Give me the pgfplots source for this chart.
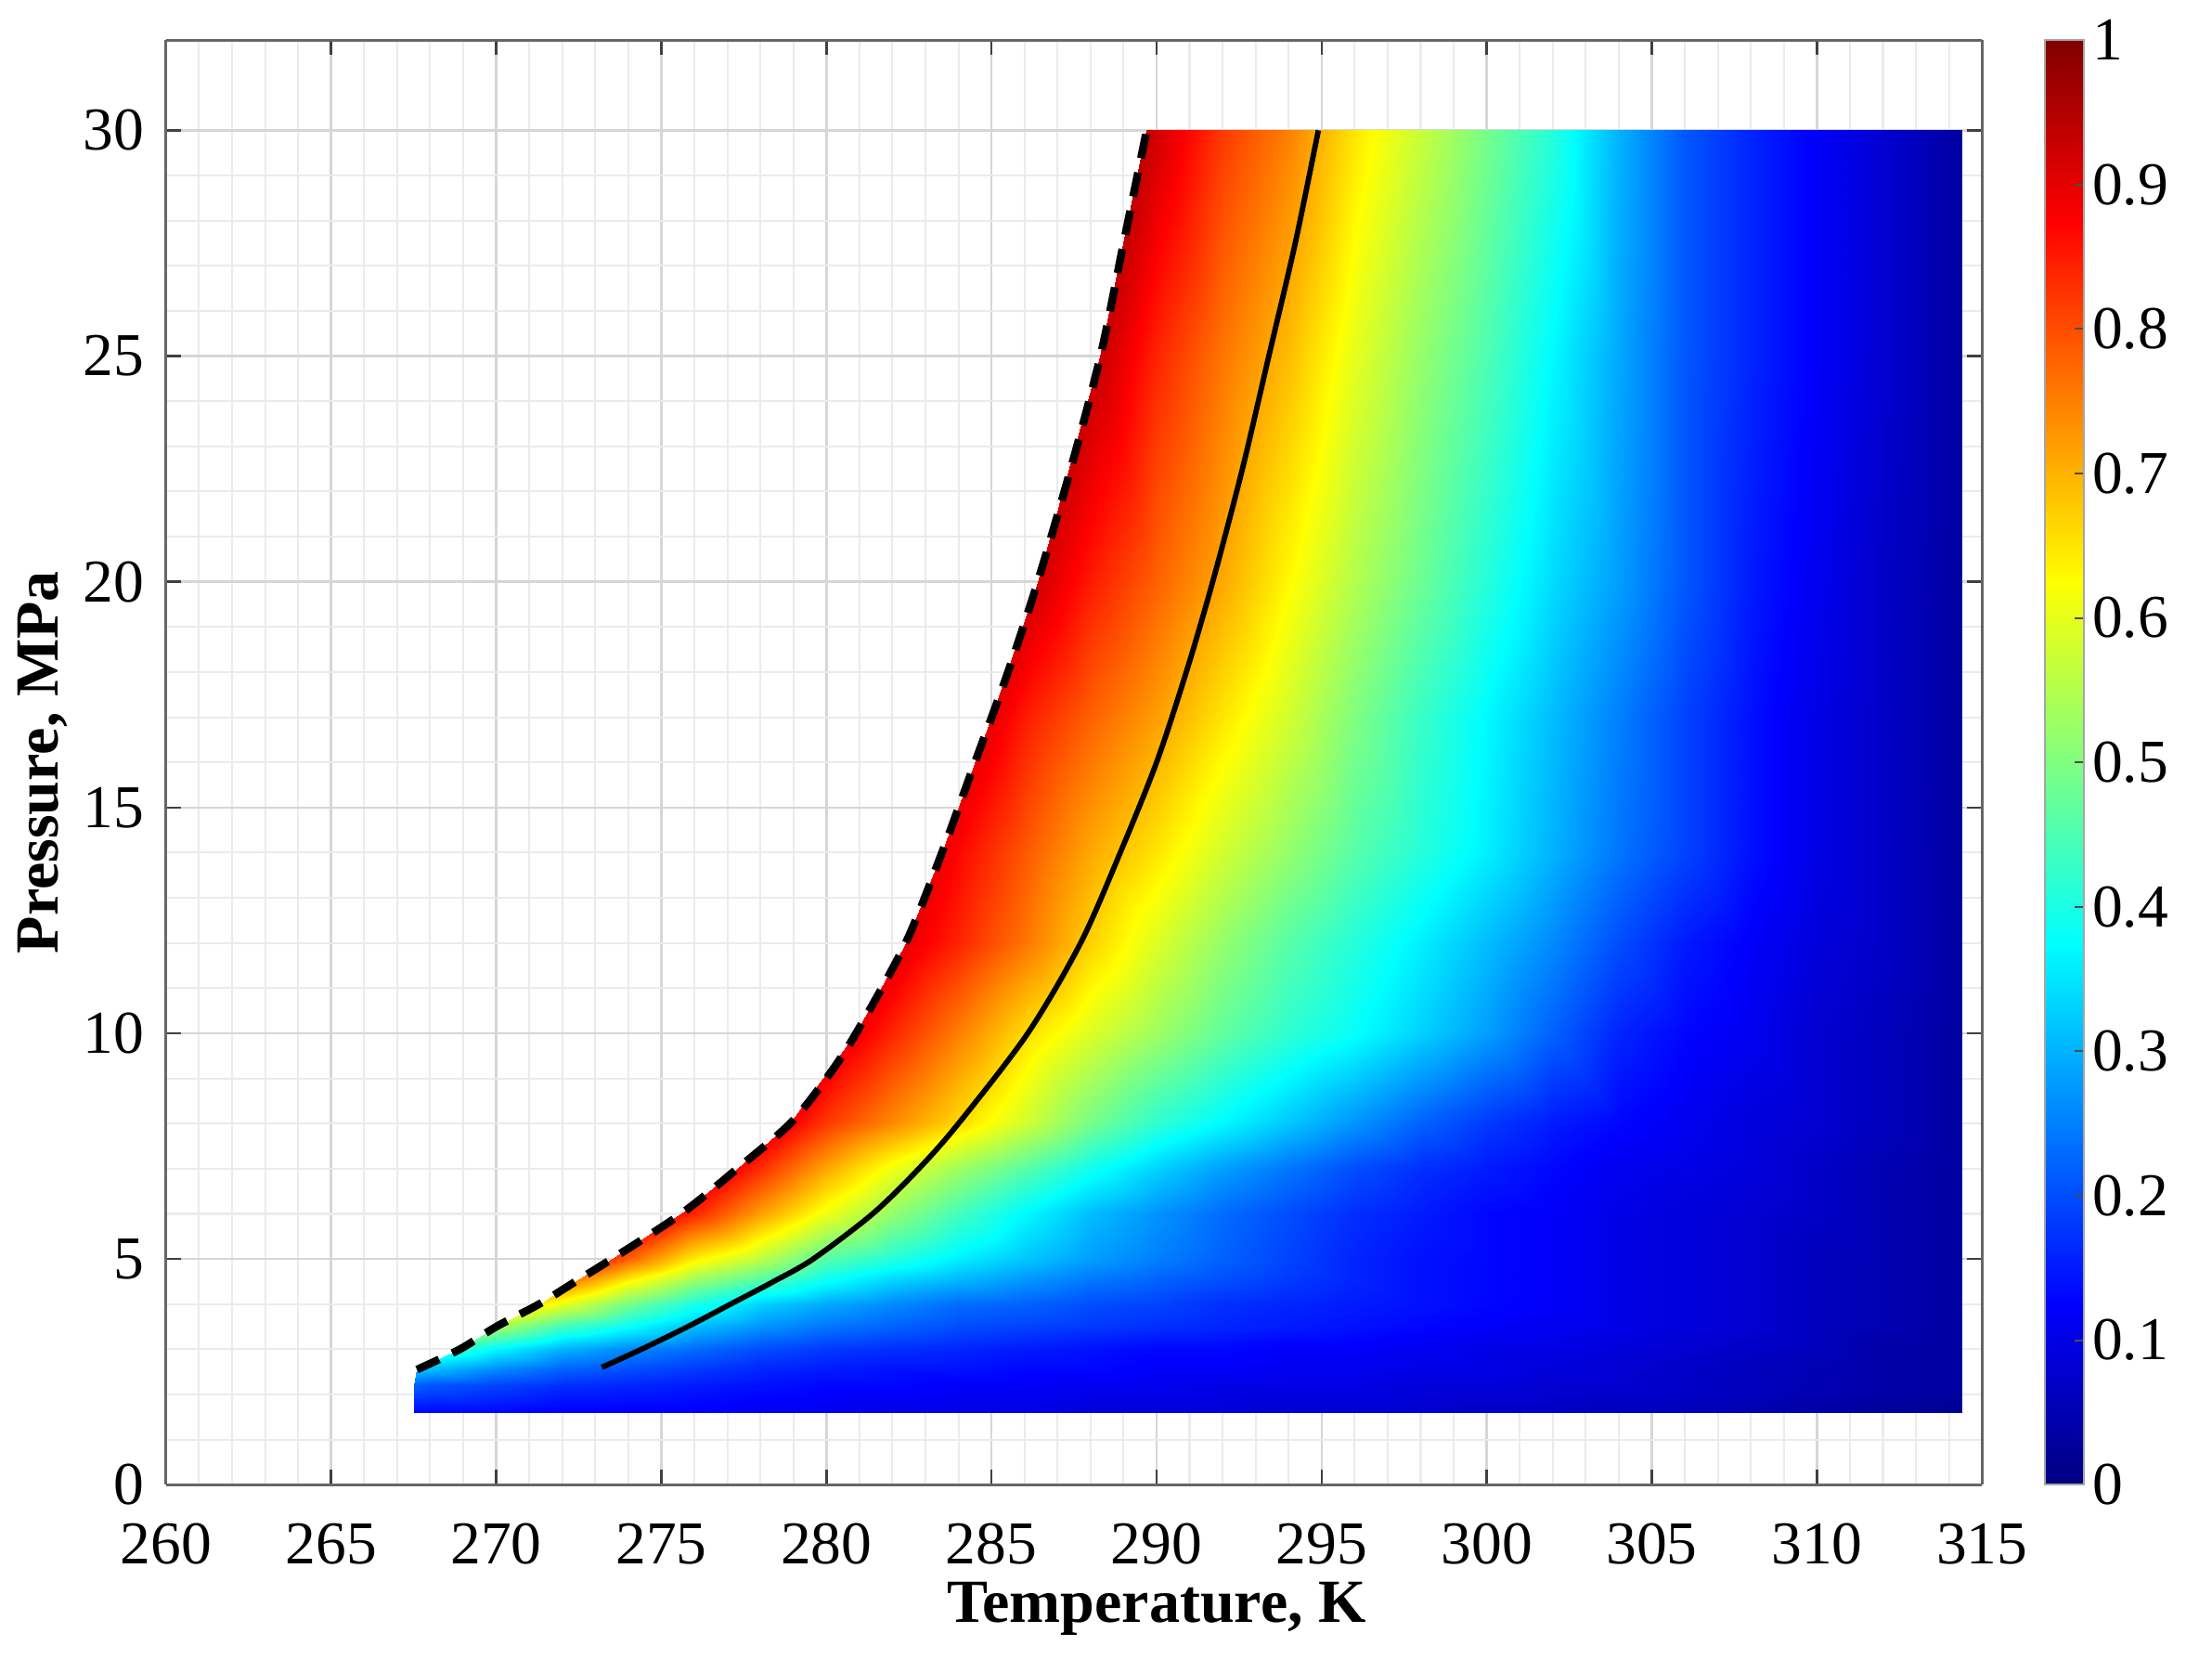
\documentclass[border=0pt]{standalone}
\usepackage{fontspec}
\setmainfont{Liberation Serif}
\usepackage{pgfplots}
\pgfplotsset{compat=1.18}
\pgfplotsset{/pgf/number format/assume math mode=true}
\begin{document}
\begin{tikzpicture}
\begin{axis}[
  name=ax,
  set layers,
  view={0}{90},
  width=371.9bp, height=295.8bp, scale only axis,
  xmin=260, xmax=315, ymin=0, ymax=32, zmin=0, zmax=1,
  xtick={260,265,...,315}, ytick={0,5,...,30}, ztick=\empty,
  minor x tick num=4, minor y tick num=4,
  grid=both,
  major grid style={draw=black!16, line width=0.5bp},
  minor grid style={draw=black!8, line width=0.4bp},
  tick align=inside, xtick pos=both, ytick pos=both,
  major tick length=3bp, minor tick length=0pt,
  every tick/.style={draw=black!75, line width=0.5bp},
  axis line style={draw=black!60, line width=0.6bp},
  ticklabel style={font=\fontsize{12.5}{14}\selectfont, inner sep=1bp},
  xticklabel style={yshift=-6.8bp},
  yticklabel style={xshift=-3.3bp},
  label style={font=\fontsize{12.6}{15}\selectfont\bfseries, inner sep=1bp},
  xlabel={Temperature, K}, ylabel={Pressure, MPa},
  xlabel style={at={(axis description cs:0.5455,-0.0862)}, anchor=center},
  ylabel style={at={(axis description cs:-0.068,0.5)}, anchor=center},
  colormap/jet,
  point meta min=0, point meta max=1,
  colorbar,
  colorbar style={
    at={(parent axis.north east)}, anchor=north west, xshift=4.4bp,
    width=8bp,
    ytick={0,0.1,0.2,0.3,0.4,0.5,0.6,0.7,0.8,0.9,1},
    ytick pos=right, tick align=inside,
    major tick length=2bp,
    every tick/.style={draw=black!70, line width=0.4bp},
    axis line style={draw=black!35, line width=0.4bp},
    yticklabel style={font=\fontsize{12.5}{14}\selectfont, xshift=0.5bp},
  },
]

% field (T, P, value); each line is one pressure row
\addplot3[surf, shader=interp, mesh/cols=25] coordinates {
(267.5,1.6,0.13) (268,1.6,0.13) (270,1.6,0.13) (272,1.6,0.12) (274,1.6,0.12) (276,1.6,0.12) (278,1.6,0.11) (280,1.6,0.11) (282,1.6,0.10) (284,1.6,0.10) (286,1.6,0.10) (288,1.6,0.09) (290,1.6,0.09) (292,1.6,0.09) (294,1.6,0.08) (296,1.6,0.08) (298,1.6,0.08) (300,1.6,0.07) (302,1.6,0.07) (304,1.6,0.06) (306,1.6,0.06) (308,1.6,0.05) (310,1.6,0.04) (312,1.6,0.03) (314.4,1.6,0.02)

(267.5,2.2,0.22) (268,2.2,0.21) (270,2.2,0.19) (272,2.2,0.17) (274,2.2,0.16) (276,2.2,0.15) (278,2.2,0.14) (280,2.2,0.13) (282,2.2,0.13) (284,2.2,0.12) (286,2.2,0.12) (288,2.2,0.11) (290,2.2,0.11) (292,2.2,0.10) (294,2.2,0.10) (296,2.2,0.10) (298,2.2,0.09) (300,2.2,0.09) (302,2.2,0.08) (304,2.2,0.08) (306,2.2,0.07) (308,2.2,0.06) (310,2.2,0.05) (312,2.2,0.04) (314.4,2.2,0.03)

(267.6,2.55,0.32) (268,2.55,0.31) (270,2.55,0.26) (272,2.55,0.22) (274,2.55,0.20) (276,2.55,0.18) (278,2.55,0.16) (280,2.55,0.15) (282,2.55,0.14) (284,2.55,0.14) (286,2.55,0.13) (288,2.55,0.13) (290,2.55,0.12) (292,2.55,0.12) (294,2.55,0.11) (296,2.55,0.11) (298,2.55,0.10) (300,2.55,0.10) (302,2.55,0.09) (304,2.55,0.08) (306,2.55,0.07) (308,2.55,0.06) (310,2.55,0.05) (312,2.55,0.04) (314.4,2.55,0.03)

(268.9,3,0.42) (268.9,3,0.42) (270,3,0.37) (272,3,0.30) (274,3,0.26) (276,3,0.23) (278,3,0.20) (280,3,0.18) (282,3,0.17) (284,3,0.16) (286,3,0.15) (288,3,0.14) (290,3,0.13) (292,3,0.13) (294,3,0.12) (296,3,0.12) (298,3,0.11) (300,3,0.10) (302,3,0.10) (304,3,0.09) (306,3,0.08) (308,3,0.07) (310,3,0.06) (312,3,0.04) (314.4,3,0.03)

(270,3.5,0.54) (270,3.5,0.54) (270,3.5,0.54) (272,3.5,0.44) (274,3.5,0.38) (276,3.5,0.31) (278,3.5,0.27) (280,3.5,0.24) (282,3.5,0.22) (284,3.5,0.20) (286,3.5,0.19) (288,3.5,0.18) (290,3.5,0.17) (292,3.5,0.16) (294,3.5,0.15) (296,3.5,0.14) (298,3.5,0.13) (300,3.5,0.12) (302,3.5,0.11) (304,3.5,0.10) (306,3.5,0.09) (308,3.5,0.08) (310,3.5,0.06) (312,3.5,0.05) (314.4,3.5,0.03)

(271.3,4,0.64) (271.3,4,0.64) (271.3,4,0.64) (272,4,0.60) (274,4,0.49) (276,4,0.40) (278,4,0.33) (280,4,0.29) (282,4,0.26) (284,4,0.23) (286,4,0.22) (288,4,0.20) (290,4,0.19) (292,4,0.17) (294,4,0.16) (296,4,0.15) (298,4,0.14) (300,4,0.13) (302,4,0.12) (304,4,0.10) (306,4,0.09) (308,4,0.08) (310,4,0.06) (312,4,0.05) (314.4,4,0.03)

(272.4,4.5,0.74) (272.4,4.5,0.74) (272.4,4.5,0.74) (272.4,4.5,0.74) (274,4.5,0.63) (276,4.5,0.52) (278,4.5,0.45) (280,4.5,0.38) (282,4.5,0.33) (284,4.5,0.30) (286,4.5,0.27) (288,4.5,0.24) (290,4.5,0.22) (292,4.5,0.20) (294,4.5,0.18) (296,4.5,0.16) (298,4.5,0.14) (300,4.5,0.13) (302,4.5,0.12) (304,4.5,0.10) (306,4.5,0.09) (308,4.5,0.08) (310,4.5,0.06) (312,4.5,0.05) (314.4,4.5,0.03)

(273.5,5,0.82) (273.5,5,0.82) (273.5,5,0.82) (273.5,5,0.82) (274,5,0.78) (276,5,0.64) (278,5,0.56) (280,5,0.46) (282,5,0.41) (284,5,0.36) (286,5,0.32) (288,5,0.28) (290,5,0.25) (292,5,0.22) (294,5,0.19) (296,5,0.16) (298,5,0.14) (300,5,0.13) (302,5,0.12) (304,5,0.10) (306,5,0.09) (308,5,0.08) (310,5,0.06) (312,5,0.05) (314.4,5,0.03)

(275.6,6,0.86) (275.6,6,0.86) (275.6,6,0.86) (275.6,6,0.86) (275.6,6,0.86) (276,6,0.84) (278,6,0.72) (280,6,0.61) (282,6,0.52) (284,6,0.44) (286,6,0.37) (288,6,0.31) (290,6,0.27) (292,6,0.23) (294,6,0.20) (296,6,0.17) (298,6,0.15) (300,6,0.13) (302,6,0.12) (304,6,0.10) (306,6,0.09) (308,6,0.08) (310,6,0.07) (312,6,0.05) (314.4,6,0.03)

(277.3,7,0.87) (277.3,7,0.87) (277.3,7,0.87) (277.3,7,0.87) (277.3,7,0.87) (277.3,7,0.87) (278,7,0.83) (280,7,0.71) (282,7,0.61) (284,7,0.53) (286,7,0.46) (288,7,0.39) (290,7,0.33) (292,7,0.28) (294,7,0.24) (296,7,0.20) (298,7,0.17) (300,7,0.15) (302,7,0.13) (304,7,0.11) (306,7,0.10) (308,7,0.09) (310,7,0.07) (312,7,0.05) (314.4,7,0.03)

(278.9,8,0.88) (278.9,8,0.88) (278.9,8,0.88) (278.9,8,0.88) (278.9,8,0.88) (278.9,8,0.88) (278.9,8,0.88) (280,8,0.82) (282,8,0.74) (284,8,0.66) (286,8,0.58) (288,8,0.49) (290,8,0.42) (292,8,0.37) (294,8,0.32) (296,8,0.27) (298,8,0.22) (300,8,0.18) (302,8,0.15) (304,8,0.13) (306,8,0.11) (308,8,0.09) (310,8,0.08) (312,8,0.06) (314.4,8,0.03)

(280.9,10,0.89) (280.9,10,0.89) (280.9,10,0.89) (280.9,10,0.89) (280.9,10,0.89) (280.9,10,0.89) (280.9,10,0.89) (280.9,10,0.89) (282,10,0.84) (284,10,0.75) (286,10,0.66) (288,10,0.59) (290,10,0.53) (292,10,0.47) (294,10,0.42) (296,10,0.38) (298,10,0.33) (300,10,0.28) (302,10,0.22) (304,10,0.16) (306,10,0.13) (308,10,0.11) (310,10,0.08) (312,10,0.06) (314.4,10,0.03)

(282.4,12,0.90) (282.4,12,0.90) (282.4,12,0.90) (282.4,12,0.90) (282.4,12,0.90) (282.4,12,0.90) (282.4,12,0.90) (282.4,12,0.90) (282.4,12,0.90) (284,12,0.84) (286,12,0.76) (288,12,0.67) (290,12,0.59) (292,12,0.52) (294,12,0.46) (296,12,0.41) (298,12,0.36) (300,12,0.31) (302,12,0.26) (304,12,0.20) (306,12,0.15) (308,12,0.12) (310,12,0.09) (312,12,0.07) (314.4,12,0.03)

(283.5,14,0.89) (283.5,14,0.89) (283.5,14,0.89) (283.5,14,0.89) (283.5,14,0.89) (283.5,14,0.89) (283.5,14,0.89) (283.5,14,0.89) (283.5,14,0.89) (284,14,0.87) (286,14,0.79) (288,14,0.71) (290,14,0.65) (292,14,0.58) (294,14,0.52) (296,14,0.46) (298,14,0.41) (300,14,0.36) (302,14,0.30) (304,14,0.24) (306,14,0.19) (308,14,0.14) (310,14,0.10) (312,14,0.07) (314.4,14,0.03)

(285,17,0.90) (285,17,0.90) (285,17,0.90) (285,17,0.90) (285,17,0.90) (285,17,0.90) (285,17,0.90) (285,17,0.90) (285,17,0.90) (285,17,0.90) (286,17,0.85) (288,17,0.78) (290,17,0.72) (292,17,0.65) (294,17,0.58) (296,17,0.50) (298,17,0.43) (300,17,0.37) (302,17,0.31) (304,17,0.25) (306,17,0.19) (308,17,0.14) (310,17,0.10) (312,17,0.07) (314.4,17,0.03)

(286.4,20,0.92) (286.4,20,0.92) (286.4,20,0.92) (286.4,20,0.92) (286.4,20,0.92) (286.4,20,0.92) (286.4,20,0.92) (286.4,20,0.92) (286.4,20,0.92) (286.4,20,0.92) (286.4,20,0.92) (288,20,0.85) (290,20,0.78) (292,20,0.71) (294,20,0.63) (296,20,0.55) (298,20,0.48) (300,20,0.41) (302,20,0.34) (304,20,0.28) (306,20,0.21) (308,20,0.15) (310,20,0.11) (312,20,0.07) (314.4,20,0.03)

(288.3,25,0.93) (288.3,25,0.93) (288.3,25,0.93) (288.3,25,0.93) (288.3,25,0.93) (288.3,25,0.93) (288.3,25,0.93) (288.3,25,0.93) (288.3,25,0.93) (288.3,25,0.93) (288.3,25,0.93) (288.3,25,0.93) (290,25,0.84) (292,25,0.76) (294,25,0.69) (296,25,0.60) (298,25,0.52) (300,25,0.45) (302,25,0.37) (304,25,0.29) (306,25,0.21) (308,25,0.16) (310,25,0.12) (312,25,0.08) (314.4,25,0.03)

(289.7,30,0.94) (289.7,30,0.94) (289.7,30,0.94) (289.7,30,0.94) (289.7,30,0.94) (289.7,30,0.94) (289.7,30,0.94) (289.7,30,0.94) (289.7,30,0.94) (289.7,30,0.94) (289.7,30,0.94) (289.7,30,0.94) (290,30,0.92) (292,30,0.82) (294,30,0.75) (296,30,0.65) (298,30,0.57) (300,30,0.49) (302,30,0.41) (304,30,0.30) (306,30,0.21) (308,30,0.16) (310,30,0.12) (312,30,0.08) (314.4,30,0.03)
};

% equilibrium boundary (dashed)
\addplot3[black, line width=1.6bp, dash pattern=on 5bp off 3bp, smooth] coordinates {
(267.6,2.55,1) (268.9,3,1) (270.0,3.5,1) (271.3,4,1) (272.4,4.5,1) (273.5,5,1)
(275.6,6,1) (277.3,7,1) (278.9,8,1) (280.0,9,1) (280.9,10,1) (282.4,12,1)
(283.5,14,1) (284.5,16,1) (285.5,18,1) (286.4,20,1) (287.4,22.5,1) (288.3,25,1)
(289.0,27.5,1) (289.7,30,1)
};

% solid curve
\addplot3[black, line width=1.1bp, smooth] coordinates {
(273.2,2.6,1) (274.4,3,1) (275.8,3.5,1) (277.1,4,1) (278.4,4.5,1) (279.6,5,1)
(281.4,6,1) (282.8,7,1) (284.0,8,1) (286.1,10,1) (287.7,12,1) (288.9,14,1)
(290.0,16,1) (290.9,18,1) (291.7,20,1) (292.6,22.5,1) (293.4,25,1)
(294.2,27.5,1) (294.9,30,1)
};

\end{axis}
\path ([shift={(-34bp,-38.2bp)}]ax.south west) rectangle ([shift={(47.1bp,8.2bp)}]ax.north east);
\end{tikzpicture}
\end{document}
